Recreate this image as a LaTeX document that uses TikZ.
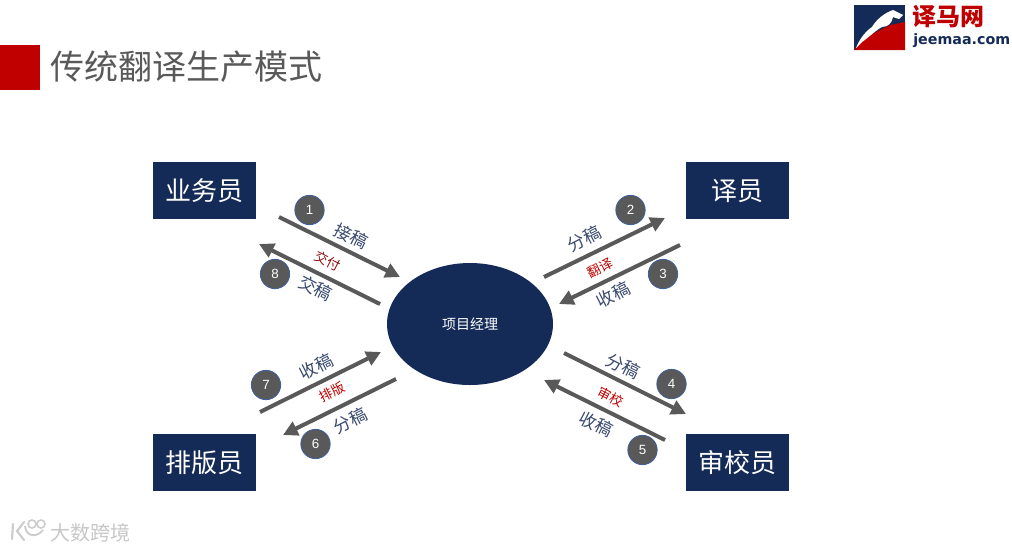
\documentclass[tikz,border=0pt]{standalone}
\usepackage{fontspec}
\setmainfont{Liberation Sans}
\newfontfamily\cjk{Noto Sans CJK SC}
\newfontfamily\logofont{DejaVu Sans}
\usetikzlibrary{arrows.meta,shapes.geometric}
\definecolor{navy}{HTML}{152B57}
\definecolor{labc}{HTML}{3A4A6E}
\definecolor{gr}{HTML}{595959}
\definecolor{rd}{HTML}{C00000}
\definecolor{drd}{HTML}{8E0F0F}
\definecolor{rim}{HTML}{3F5F9F}
\tikzset{
 rolebox/.style={fill=navy,text=white,minimum width=77.25pt,minimum height=42.75pt,inner sep=0pt,font=\cjk\fontsize{19.5}{19.5}\selectfont},
 flow/.style={draw=gr,line width=3pt,-{Triangle[length=11pt,width=11pt]}},
 num/.style={circle,fill=gr,draw=rim,line width=.6pt,minimum size=22pt,inner sep=0pt,text=white,font=\fontsize{10}{10}\selectfont},
 lab/.style={text=labc,inner sep=0pt,font=\cjk\fontsize{13}{13}\selectfont},
 task/.style={text=rd,inner sep=0pt,font=\cjk\fontsize{10}{10}\selectfont},
}
\begin{document}
\begin{tikzpicture}[x=.75pt,y=-.75pt]
\useasboundingbox (0,0) rectangle (1012,551);
\fill[white] (0,0) rectangle (1012,551);
% header
\fill[rd] (0,45) rectangle (40,90);
\node[anchor=west,inner sep=0pt,text=gr,font=\cjk\fontsize{25.5}{25.5}\selectfont] (title) at (50,67) {传统翻译生产模式};
% logo
\fill[navy] (854,5) rectangle (905,50);
\fill[rd] (854,50) -- (905,50) -- (905,22) -- (890,25) -- (878,31) -- (866,37) -- cycle;
\fill[white] (856,48) .. controls (860,38) and (866,31) .. (872,27) .. controls (876,20) and (884,13) .. (893,10) -- (903,15) -- (899,19) -- (893,17) .. controls (892,23) and (888,27) .. (882,27) .. controls (876,30) and (868,38) .. (862,42) -- cycle;
\node[anchor=west,inner sep=0pt,text=rd,font=\cjk\bfseries\fontsize{18}{18}\selectfont] (logoa) at (912,17) {译马网};
\node[anchor=west,inner sep=0pt,text=navy,font=\logofont\bfseries\fontsize{10.7}{10.7}\selectfont] (logob) at (913,41) {jeemaa.com};
% main nodes
\node[rolebox] (sales) at (204.5,190.5) {\raisebox{1pt}{业务员}};
\node[rolebox] (trans) at (737.5,190.5) {\raisebox{1pt}{译员}};
\node[rolebox] (layout) at (204.5,462.5) {\raisebox{1pt}{排版员}};
\node[rolebox] (review) at (737.5,462.5) {\raisebox{1pt}{审校员}};
\node[ellipse,fill=navy,minimum width=124.5pt,minimum height=91.5pt,inner sep=0pt,text=white,font=\cjk\fontsize{10.5}{10.5}\selectfont] (pm) at (470,324) {项目经理};
% connector ends
\coordinate (a1) at (279,217); \coordinate (b1) at (400,277);
\coordinate (a8) at (380,304); \coordinate (b8) at (259,244);
\coordinate (a2) at (544,277); \coordinate (b2) at (665,218);
\coordinate (a3) at (680,245); \coordinate (b3) at (559,304);
\coordinate (a4) at (564,353); \coordinate (b4) at (686,414);
\coordinate (a5) at (665,440); \coordinate (b5) at (544,380);
\coordinate (a7) at (260,412); \coordinate (b7) at (381,352);
\coordinate (a6) at (396,379); \coordinate (b6) at (283,435);
\foreach \i in {1,...,8} \draw[flow] (a\i) -- (b\i);
% numbers
\node[num] (n1) at (309.5,210) {1};
\node[num] (n2) at (630.5,210) {2};
\node[num] (n3) at (663,274) {3};
\node[num] (n4) at (671.5,384) {4};
\node[num] (n5) at (642.5,450) {5};
\node[num] (n6) at (315.5,444) {6};
\node[num] (n7) at (266,385) {7};
\node[num] (n8) at (275,274) {8};
% labels
\node[lab,rotate=-27] (l1) at (351,236) {接稿};
\node[task,rotate=-27,text=drd] (t1) at (328,261) {交付};
\node[lab,rotate=-27] (l8) at (316,288) {交稿};
\node[lab,rotate=27] (l2) at (584,239) {分稿};
\node[task,rotate=27] (t2) at (600,268) {翻译};
\node[lab,rotate=27] (l3) at (613,295) {收稿};
\node[lab,rotate=-27] (l4) at (623,366) {分稿};
\node[task,rotate=-27] (t3) at (611,397) {审校};
\node[lab,rotate=-27] (l5) at (596,424) {收稿};
\node[lab,rotate=27] (l7) at (316,367) {收稿};
\node[task,rotate=27] (t4) at (332,392) {排版};
\node[lab,rotate=27] (l6) at (350,421) {分稿};
% watermark
\node[anchor=west,inner sep=0pt,text=black!22,font=\cjk\fontsize{15}{15}\selectfont] (wm) at (50,533) {大数跨境};
\draw[black!20,line width=1.6pt,line cap=round] (13,524) -- (12,539) (24,522) -- (17,531) -- (24,540);
\draw[black!20,line width=1.4pt] (25,526) .. controls (26,538) and (38,537) .. (43,530);
\draw[black!20,line width=1.2pt] (32,524) circle (4) (41,524) circle (4);
\end{tikzpicture}
\end{document}
